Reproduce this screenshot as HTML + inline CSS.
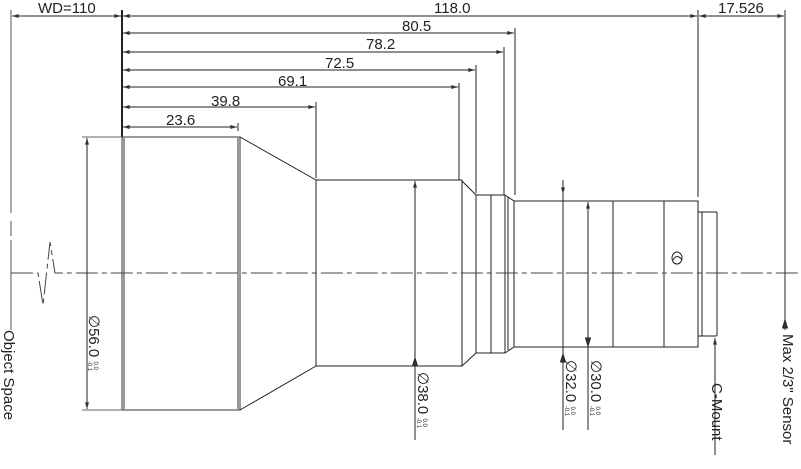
<!DOCTYPE html>
<html><head><meta charset="utf-8"><style>
html,body{margin:0;padding:0;background:#fff;}
svg{display:block;}
text{font-family:"Liberation Sans",sans-serif;fill:#222;}
</style></head><body>
<svg width="801" height="469" viewBox="0 0 801 469" xmlns="http://www.w3.org/2000/svg">
<defs>
<marker id="a" viewBox="0 0 10 6" refX="10" refY="3" markerWidth="7" markerHeight="4" orient="auto-start-reverse" markerUnits="userSpaceOnUse"><path d="M0,0L10,3L0,6z" fill="#333"/></marker>
</defs>
<g stroke="#222" stroke-width="1" fill="none">
<line x1="11" y1="10" x2="11" y2="213" stroke="#555"/>
<line x1="11" y1="221" x2="11" y2="236" stroke="#555"/>
<line x1="11" y1="240" x2="11" y2="330" stroke="#555"/>
<line x1="122" y1="10" x2="122" y2="137" stroke-width="2"/>
<line x1="698" y1="10" x2="698" y2="197"/>
<line x1="785" y1="10" x2="785" y2="330"/>
<line x1="515" y1="28" x2="515" y2="195"/>
<line x1="504" y1="47" x2="504" y2="195"/>
<line x1="476" y1="65" x2="476" y2="193"/>
<line x1="459" y1="83" x2="459" y2="180"/>
<line x1="316" y1="102" x2="316" y2="178"/>
<line x1="238" y1="123" x2="238" y2="131"/>
<line x1="12" y1="16" x2="121" y2="16" marker-start="url(#a)" marker-end="url(#a)"/>
<line x1="123" y1="16" x2="697" y2="16" marker-start="url(#a)" marker-end="url(#a)"/>
<line x1="699" y1="16" x2="784" y2="16" marker-start="url(#a)" marker-end="url(#a)"/>
<line x1="123" y1="33" x2="514" y2="33" marker-start="url(#a)" marker-end="url(#a)"/>
<line x1="123" y1="52" x2="503" y2="52" marker-start="url(#a)" marker-end="url(#a)"/>
<line x1="123" y1="70" x2="475" y2="70" marker-start="url(#a)" marker-end="url(#a)"/>
<line x1="123" y1="87" x2="458" y2="87" marker-start="url(#a)" marker-end="url(#a)"/>
<line x1="123" y1="107" x2="315" y2="107" marker-start="url(#a)" marker-end="url(#a)"/>
<line x1="123" y1="127" x2="237" y2="127" marker-start="url(#a)" marker-end="url(#a)"/>
<rect x="122" y="137" width="118" height="273" stroke="#333"/>
<line x1="124" y1="137" x2="124" y2="410" stroke="#999" stroke-width="2"/>
<line x1="238" y1="137" x2="238" y2="410" stroke="#999" stroke-width="2"/>
<polyline points="240,137 316,180 316,366 240,410"/>
<rect x="316" y="180" width="146" height="186"/>
<polyline points="462,181 476,195 476,353 462,366"/>
<line x1="476" y1="195" x2="505" y2="195"/>
<line x1="476" y1="353" x2="505" y2="353"/>
<line x1="491" y1="195" x2="491" y2="353"/>
<line x1="505" y1="195" x2="505" y2="353"/>
<line x1="508" y1="197" x2="508" y2="350"/>
<polyline points="505,195 514,201 514,347 505,353"/>
<rect x="514" y="201" width="184" height="146"/>
<line x1="613" y1="201" x2="613" y2="347"/>
<line x1="664" y1="201" x2="664" y2="347"/>
<rect x="698" y="212" width="4" height="124"/>
<rect x="702" y="212" width="15" height="124" rx="1"/>
<ellipse cx="677" cy="258" rx="5" ry="6"/>
<path d="M673,260 Q677,253 682,260" />
<path d="M11,273 H38 L43,305 L50,242 L55,273 H800" stroke="#444" stroke-dasharray="22,4,5,4"/>
<line x1="87" y1="138" x2="87" y2="409" marker-start="url(#a)" marker-end="url(#a)"/>
<line x1="82" y1="137" x2="122" y2="137" stroke="#666"/>
<line x1="82" y1="410" x2="122" y2="410" stroke="#666"/>
<line x1="415" y1="181" x2="415" y2="440" marker-start="url(#a)"/>
<path d="M415,358 L412.5,366 L417.5,366z" fill="#333"/>
<line x1="563" y1="180" x2="563" y2="194" marker-end="url(#a)"/>
<line x1="563" y1="194" x2="563" y2="430"/>
<path d="M563,354 L560.5,362 L565.5,362z" fill="#333"/>
<line x1="588" y1="202" x2="588" y2="430" marker-start="url(#a)"/>
<path d="M588,346 L585.5,338 L590.5,338z" fill="#333"/>
<line x1="715" y1="338" x2="715" y2="455" marker-start="url(#a)"/>
<path d="M785,320 L782.5,328 L787.5,328z" fill="#333"/>
</g>
<g font-size="15">
<text x="38" y="13">WD=110</text>
<text x="434" y="13">118.0</text>
<text x="718" y="13">17.526</text>
<text x="402" y="31">80.5</text>
<text x="366" y="49">78.2</text>
<text x="325" y="68">72.5</text>
<text x="278" y="86">69.1</text>
<text x="211" y="106">39.8</text>
<text x="166" y="125">23.6</text>
</g>
<g font-size="15">
<text transform="translate(4,330) rotate(90)">Object Space</text>
<text transform="translate(89,315) rotate(90)">∅56.0 <tspan font-size="6" dy="-5">0.0</tspan><tspan font-size="6" dx="-9" dy="6">-0.1</tspan></text>
<text transform="translate(418,372) rotate(90)">∅38.0 <tspan font-size="6" dy="-5">0.0</tspan><tspan font-size="6" dx="-9" dy="6">-0.1</tspan></text>
<text transform="translate(566,360) rotate(90)">∅32.0 <tspan font-size="6" dy="-5">0.0</tspan><tspan font-size="6" dx="-9" dy="6">-0.1</tspan></text>
<text transform="translate(591,360) rotate(90)">∅30.0 <tspan font-size="6" dy="-5">0.0</tspan><tspan font-size="6" dx="-9" dy="6">-0.1</tspan></text>
<text transform="translate(712,383) rotate(90)">C-Mount</text>
<text transform="translate(783,334) rotate(90)">Max 2/3" Sensor</text>
</g>
</svg>
</body></html>
